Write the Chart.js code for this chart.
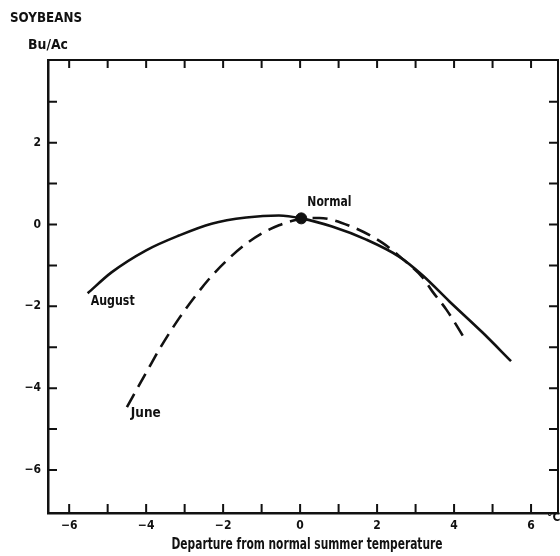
<!DOCTYPE html>
<html>
<head>
<meta charset="utf-8">
<script src="https://cdn.jsdelivr.net/npm/chart.js@4"></script>
<style>
  html, body { margin: 0; padding: 0; background: #fff; }
  #wrap { width: 560px; height: 556px; }
</style>
</head>
<body>
<div id="wrap"><canvas id="chart" width="560" height="556"></canvas></div>
<script>
// values
const augustX = [-5.52, -4.9, -4.0, -3.15, -2.3, -1.4, -0.55, 0.03, 0.83, 1.72, 2.58, 3.18, 3.88, 4.74, 5.48];
const augustY = [-1.68, -1.17, -0.63, -0.27, 0.02, 0.17, 0.22, 0.15, -0.05, -0.37, -0.79, -1.24, -1.88, -2.64, -3.34];

const juneX = [-4.5, -4.0, -3.6, -3.15, -2.7, -2.3, -1.85, -1.4, -1.0, -0.55, -0.2, 0.03, 0.5, 1.28, 2.14, 2.66, 3.18, 3.44, 3.8, 4.32];
const juneY = [-4.46, -3.62, -2.96, -2.30, -1.72, -1.26, -0.83, -0.47, -0.22, -0.02, 0.09, 0.14, 0.16, -0.03, -0.45, -0.84, -1.29, -1.64, -2.08, -2.86];

const normalX = [0.03];
const normalY = [0.15];

const xTicks = [-6, -4, -2, 0, 2, 4, 6];
const yTicks = [-6, -4, -2, 0, 2];

const FONT = '"Liberation Sans Narrow", "DejaVu Sans Condensed", "Liberation Sans", sans-serif';

const pts = (xs, ys) => xs.map((x, i) => ({ x: x, y: ys[i] }));
const minus = v => String(v).replace("-", "\u2212");

// inward tick marks on all four sides + text labels
const extras = {
  id: "extras",
  afterDraw(chart) {
    const { ctx, chartArea: a, scales } = chart;
    const sx = scales.x, sy = scales.y;
    ctx.save();
    ctx.strokeStyle = "#111";
    ctx.lineWidth = 2;
    ctx.beginPath();
    for (let v = -6; v <= 6; v++) {
      const px = sx.getPixelForValue(v);
      ctx.moveTo(px, a.bottom); ctx.lineTo(px, a.bottom - 9);
      ctx.moveTo(px, a.top); ctx.lineTo(px, a.top + 8);
    }
    for (let v = -6; v <= 3; v++) {
      const py = sy.getPixelForValue(v);
      ctx.moveTo(a.left, py); ctx.lineTo(a.left + 9, py);
      ctx.moveTo(a.right, py); ctx.lineTo(a.right - 9, py);
    }
    ctx.stroke();

    ctx.fillStyle = "#111";
    ctx.textBaseline = "middle";
    ctx.textAlign = "center";
    ctx.font = "bold 14px " + FONT;
    ctx.fillText("August", sx.getPixelForValue(-4.87), sy.getPixelForValue(-1.88), 44);
    ctx.fillText("June", sx.getPixelForValue(-4.01), sy.getPixelForValue(-4.61), 30);
    ctx.fillText("Normal", sx.getPixelForValue(0.76), sy.getPixelForValue(0.54), 44);

    ctx.textAlign = "left";
    ctx.font = "bold 14px " + FONT;
    ctx.fillText("SOYBEANS", 10, 18, 72);
    ctx.fillText("Bu/Ac", 28, 45, 40);

    ctx.textAlign = "center";
    ctx.font = "bold 16px " + FONT;
    ctx.fillText("Departure from normal summer temperature", 307, 545, 271);

    ctx.textAlign = "left";
    ctx.font = "bold 12px " + FONT;
    ctx.fillText("\u00B0C", 547, 518);
    ctx.restore();
  }
};

const noPad = s => { s.paddingLeft = 0; s.paddingRight = 0; };

new Chart(document.getElementById("chart").getContext("2d"), {
  type: "scatter",
  data: {
    datasets: [
      {
        label: "August",
        data: pts(augustX, augustY),
        showLine: true,
        borderColor: "#111",
        borderWidth: 2.6,
        pointRadius: 0,
        cubicInterpolationMode: "monotone"
      },
      {
        label: "June",
        data: pts(juneX, juneY),
        showLine: true,
        borderColor: "#111",
        borderWidth: 2.6,
        borderDash: [15, 8],
        pointRadius: 0,
        cubicInterpolationMode: "monotone"
      },
      {
        label: "Normal",
        data: pts(normalX, normalY),
        pointRadius: 5.5,
        backgroundColor: "#111",
        borderColor: "#111"
      }
    ]
  },
  options: {
    responsive: false,
    animation: false,
    layout: { padding: 0, autoPadding: false },
    plugins: { legend: { display: false }, tooltip: { enabled: false } },
    scales: {
      x: {
        type: "linear", position: "bottom", min: -6.55, max: 6.7,
        afterBuildTicks: s => { s.ticks = xTicks.map(v => ({ value: v })); },
        afterFit: s => { s.height = 43; noPad(s); },
        grid: { display: false, drawTicks: false },
        border: { display: true, color: "#111", width: 2.5 },
        ticks: { color: "#111", padding: 6, maxRotation: 0, font: { family: FONT, size: 12, weight: "bold" }, callback: v => minus(v) }
      },
      x2: {
        type: "linear", position: "top", min: -6.55, max: 6.7,
        afterFit: s => { s.height = 60; noPad(s); },
        grid: { display: false, drawTicks: false },
        border: { display: true, color: "#111", width: 2 },
        ticks: { display: false }
      },
      y: {
        type: "linear", position: "left", min: -7.05, max: 4.02,
        afterBuildTicks: s => { s.ticks = yTicks.map(v => ({ value: v })); },
        afterFit: s => { s.width = 48; },
        grid: { display: false, drawTicks: false },
        border: { display: true, color: "#111", width: 2.5 },
        ticks: { color: "#111", padding: 7, font: { family: FONT, size: 12, weight: "bold" }, callback: v => minus(v) }
      },
      y2: {
        type: "linear", position: "right", min: -7.05, max: 4.02,
        afterFit: s => { s.width = 2; },
        grid: { display: false, drawTicks: false },
        border: { display: true, color: "#111", width: 2 },
        ticks: { display: false }
      }
    }
  },
  plugins: [extras]
});
</script>
</body>
</html>
